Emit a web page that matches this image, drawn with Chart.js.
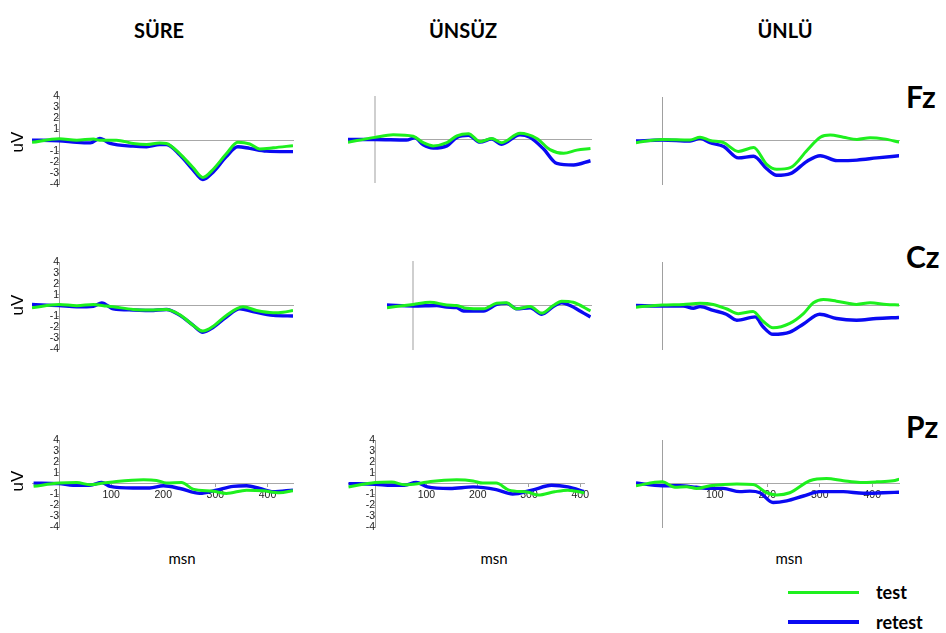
<!DOCTYPE html>
<html>
<head>
<meta charset="utf-8">
<script src="https://cdn.jsdelivr.net/npm/chart.js@4.4.1/dist/chart.umd.min.js"></script>
<style>
html,body{margin:0;padding:0;background:#fff;}
#stage{position:relative;width:946px;height:633px;overflow:hidden;background:#fff;}
canvas{position:absolute;}
.t{position:absolute;white-space:nowrap;color:#000;line-height:1;}
.colTitle{font-family:Lato,'Open Sans',sans-serif;font-weight:700;font-size:20px;transform:translate(-50%,-50%);}
.rowTitle{font-family:Lato,'Open Sans',sans-serif;font-weight:700;font-size:30px;transform:translate(0,-50%);}
.msn{font-family:Lato,'Open Sans',sans-serif;font-size:15px;transform:translate(-50%,-50%);}
.uv{font-family:'Liberation Sans',Arial,sans-serif;font-size:17px;transform:translate(-50%,-50%) rotate(-90deg);}
.leg{font-family:Lato,'Open Sans',sans-serif;font-weight:700;font-size:18px;transform:translate(0,-50%);}
.legLine{position:absolute;}
</style>
</head>
<body>
<div id="stage"></div>
<script>
// ---------- data (time in ms, amplitude in uV) ----------
const columns = ['SÜRE', 'ÜNSÜZ', 'ÜNLÜ'];
const rows = ['Fz', 'Cz', 'Pz'];
const seriesNames = ['test', 'retest'];
const yTicks = [4, 3, 2, 1, -1, -2, -3, -4];
const xTicks = [100, 200, 300, 400];
const xAxisTitle = 'msn';
const yAxisTitle = 'uV';

// Fz - SÜRE
const fzSureTestT   = [-52, 0, 34, 66, 78, 110, 142, 168, 193, 206, 232, 257, 276, 296, 321, 343, 366, 385, 411, 449];
const fzSureTest    = [-0.2, 0.12, 0, 0.1, 0, 0, -0.3, -0.4, -0.25, -0.3, -1.25, -2.5, -3.4, -2.65, -1.25, -0.2, -0.35, -0.8, -0.7, -0.5];
const fzSureRetestT = [-52, 0, 34, 60, 78, 98, 142, 168, 193, 206, 232, 257, 276, 296, 321, 343, 366, 398, 449];
const fzSureRetest  = [0, -0.05, -0.2, -0.25, 0.15, -0.3, -0.55, -0.6, -0.4, -0.4, -1.35, -2.7, -3.6, -2.9, -1.5, -0.6, -0.75, -1.0, -1.05];
// Fz - ÜNSÜZ
const fzUnsuzTestT   = [-51, 0, 35, 73, 92, 111, 137, 156, 178, 200, 222, 241, 276, 308, 333, 359, 384, 410];
const fzUnsuzTest    = [-0.25, 0.2, 0.45, 0.3, -0.3, -0.6, -0.3, 0.35, 0.55, -0.2, 0.1, -0.3, 0.6, 0.1, -0.95, -1.3, -1.0, -0.85];
const fzUnsuzRetestT = [-51, 0, 60, 76, 92, 111, 137, 156, 178, 200, 222, 241, 276, 295, 321, 346, 378, 410];
const fzUnsuzRetest  = [0, 0, -0.05, 0.15, -0.5, -0.8, -0.6, 0.2, 0.4, -0.25, 0.05, -0.45, 0.45, 0.2, -0.9, -2.25, -2.4, -2.0];
// Fz - ÜNLÜ
const fzUnluTestT   = [-50, 0, 53, 72, 91, 117, 145, 174, 199, 218, 244, 276, 301, 320, 345, 371, 396, 422, 452];
const fzUnluTest    = [-0.2, 0.1, 0.05, 0.3, 0, -0.2, -1.0, -0.65, -2.2, -2.65, -2.5, -0.9, 0.3, 0.5, 0.3, 0.1, 0.25, 0.15, -0.15];
const fzUnluRetestT = [-50, 0, 53, 72, 91, 117, 145, 174, 199, 218, 244, 276, 301, 333, 371, 409, 452];
const fzUnluRetest  = [-0.05, 0.05, -0.05, 0.2, -0.2, -0.55, -1.6, -1.45, -2.6, -3.2, -3.05, -1.9, -1.4, -1.85, -1.8, -1.6, -1.4];
// Cz - SÜRE
const czSureTestT   = [-52, 0, 34, 66, 85, 104, 142, 174, 206, 232, 257, 276, 296, 321, 353, 379, 411, 430, 449];
const czSureTest    = [-0.2, 0.1, 0, 0.1, 0, -0.1, -0.35, -0.4, -0.35, -0.85, -1.8, -2.35, -1.9, -0.9, -0.1, -0.45, -0.65, -0.6, -0.45];
const czSureRetestT = [-52, 0, 34, 66, 82, 104, 142, 174, 206, 232, 257, 276, 296, 321, 347, 372, 411, 449];
const czSureRetest  = [0.1, 0, -0.1, -0.05, 0.25, -0.3, -0.4, -0.45, -0.35, -0.9, -1.8, -2.45, -2.0, -1.05, -0.3, -0.55, -0.9, -0.95];
// Cz - ÜNSÜZ
const czUnsuzTestT   = [-50, 0, 32, 64, 83, 102, 134, 159, 178, 197, 223, 245, 267, 283, 305, 338];
const czUnsuzTest    = [-0.2, 0.1, 0.3, 0.05, 0, -0.25, -0.3, 0.2, 0.25, -0.3, -0.1, -0.7, 0, 0.4, 0.3, -0.5];
const czUnsuzRetestT = [-50, 0, 45, 64, 83, 96, 134, 159, 178, 197, 223, 245, 267, 283, 299, 325, 338];
const czUnsuzRetest  = [0.05, -0.05, 0, -0.15, -0.2, -0.5, -0.5, 0.1, 0.2, -0.3, -0.2, -0.8, -0.1, 0.25, 0, -0.7, -1.05];
// Cz - ÜNLÜ
const czUnluTestT   = [-50, 0, 40, 72, 97, 122, 145, 173, 192, 211, 243, 269, 288, 307, 332, 370, 396, 427, 451];
const czUnluTest    = [-0.15, 0.05, 0.1, 0.2, 0.1, -0.3, -0.75, -0.55, -1.45, -2.05, -1.65, -0.75, 0.25, 0.55, 0.4, 0.1, 0.25, 0.1, 0.05];
const czUnluRetestT = [-50, 0, 40, 59, 72, 97, 122, 142, 177, 192, 211, 243, 269, 300, 332, 370, 408, 451];
const czUnluRetest  = [0, -0.05, -0.05, -0.25, -0.1, -0.45, -0.8, -1.35, -1.05, -1.95, -2.65, -2.45, -1.7, -0.8, -1.2, -1.35, -1.2, -1.1];
// Pz - SÜRE
const pzSureTestT   = [-49, 0, 34, 59, 85, 110, 162, 187, 206, 235, 257, 296, 321, 360, 391, 423, 449];
const pzSureTest    = [-0.25, 0.05, 0.1, -0.1, 0.05, 0.2, 0.35, 0.3, 0.05, 0.1, -0.5, -0.7, -0.9, -0.6, -0.65, -0.85, -0.65];
const pzSureRetestT = [-49, 0, 27, 59, 82, 98, 142, 174, 200, 232, 270, 302, 334, 360, 385, 411, 449];
const pzSureRetest  = [0.05, 0, -0.15, -0.15, 0.1, -0.25, -0.4, -0.4, -0.2, -0.45, -0.9, -0.6, -0.25, -0.2, -0.45, -0.75, -0.6];
// Pz - ÜNSÜZ
const pzUnsuzTestT   = [-52, 0, 32, 57, 83, 108, 159, 191, 210, 236, 261, 299, 318, 350, 376, 409];
const pzUnsuzTest    = [-0.3, 0.1, 0.15, -0.1, 0, 0.2, 0.35, 0.25, 0.05, 0.05, -0.6, -0.8, -1.05, -0.75, -0.6, -0.85];
const pzUnsuzRetestT = [-52, 0, 32, 57, 80, 102, 146, 191, 236, 268, 306, 344, 376, 409];
const pzUnsuzRetest  = [0, -0.05, -0.15, -0.15, 0.1, -0.3, -0.45, -0.3, -0.55, -0.95, -0.6, -0.15, -0.3, -0.75];
// Pz - ÜNLÜ
const pzUnluTestT   = [-50, 0, 24, 46, 65, 91, 116, 142, 173, 199, 218, 243, 281, 313, 345, 377, 408, 440, 452];
const pzUnluTest    = [-0.2, 0.15, -0.35, -0.3, -0.45, -0.2, -0.1, -0.05, -0.1, -0.85, -1.05, -0.85, 0.25, 0.45, 0.25, 0.1, 0.15, 0.25, 0.4];
const pzUnluRetestT = [-50, 0, 34, 65, 91, 116, 148, 167, 186, 211, 237, 269, 300, 345, 383, 421, 452];
const pzUnluRetest  = [0.05, -0.2, -0.2, -0.35, -0.45, -0.45, -0.75, -0.7, -0.85, -1.75, -1.6, -1.15, -0.75, -0.75, -0.9, -0.85, -0.8];

// ---------- layout / styling ----------
const GREEN = '#1ef01e';
const BLUE = '#0a0af2';
const stage = document.getElementById('stage');

const panels = [
  {t:[fzSureTestT, fzSureTest], r:[fzSureRetestT, fzSureRetest], left:32, right:293, top:96, bottom:184, xmin:-52, xmax:449, yLab:true, xLab:false, axis:'thin'},
  {t:[fzUnsuzTestT, fzUnsuzTest], r:[fzUnsuzRetestT, fzUnsuzRetest], left:348, right:591, top:97, bottom:182, xmin:-51, xmax:411, yLab:false, xLab:false, axis:'light'},
  {t:[fzUnluTestT, fzUnluTest], r:[fzUnluRetestT, fzUnluRetest], left:636, right:899, top:97, bottom:184, xmin:-50, xmax:451, yLab:false, xLab:false, axis:'thin'},
  {t:[czSureTestT, czSureTest], r:[czSureRetestT, czSureRetest], left:32, right:293, top:262, bottom:349, xmin:-52, xmax:449, yLab:true, xLab:false, axis:'thin'},
  {t:[czUnsuzTestT, czUnsuzTest], r:[czUnsuzRetestT, czUnsuzRetest], left:387, right:591, top:262, bottom:349, xmin:-50, xmax:339, yLab:false, xLab:false, axis:'light'},
  {t:[czUnluTestT, czUnluTest], r:[czUnluRetestT, czUnluRetest], left:636, right:899, top:262, bottom:349, xmin:-50, xmax:451, yLab:false, xLab:false, axis:'thin'},
  {t:[pzSureTestT, pzSureTest], r:[pzSureRetestT, pzSureRetest], left:32, right:293, top:440, bottom:527, xmin:-52, xmax:449, yLab:true, xLab:true, axis:'thin'},
  {t:[pzUnsuzTestT, pzUnsuzTest], r:[pzUnsuzRetestT, pzUnsuzRetest], left:348, right:591, top:440, bottom:527, xmin:-53, xmax:408, yLab:true, xLab:true, axis:'thin', padR:0},
  {t:[pzUnluTestT, pzUnluTest], r:[pzUnluRetestT, pzUnluRetest], left:636, right:899, top:440, bottom:527, xmin:-50, xmax:451, yLab:false, xLab:true, axis:'thin'}
];

function pts(ts, vs) { return ts.map((t, i) => ({x: t, y: vs[i]})); }

const tickFont = {family: "'Liberation Sans', Arial, sans-serif", size: 10.5};

panels.forEach(p => {
  const padL = 30, padR = (p.padR !== undefined) ? p.padR : 6, padT = 8, padB = 16;
  const cv = document.createElement('canvas');
  const w = p.right - p.left + padL + padR;
  const h = p.bottom - p.top + padT + padB;
  cv.width = w; cv.height = h;
  cv.style.left = (p.left - padL) + 'px';
  cv.style.top = (p.top - padT) + 'px';
  cv.style.width = w + 'px'; cv.style.height = h + 'px';
  stage.appendChild(cv);
  const axisColor = p.axis === 'light' ? '#cfcfcf' : '#a0a0a0';
  const axisWidth = p.axis === 'light' ? 2 : 1;
  new Chart(cv, {
    type: 'line',
    data: {
      datasets: [
        {label: seriesNames[0], data: pts(p.t[0], p.t[1]), borderColor: GREEN, borderWidth: 3, pointRadius: 0, cubicInterpolationMode: 'monotone', fill: false},
        {label: seriesNames[1], data: pts(p.r[0], p.r[1]), borderColor: BLUE, borderWidth: 3.4, pointRadius: 0, cubicInterpolationMode: 'monotone', fill: false}
      ]
    },
    options: {
      responsive: false, animation: false, devicePixelRatio: 1,
      layout: {padding: {left: padL, right: padR, top: padT, bottom: padB}},
      plugins: {legend: {display: false}, tooltip: {enabled: false}, title: {display: false}},
      events: [],
      scales: {
        x: {
          type: 'linear', min: p.xmin, max: p.xmax,
          position: {y: 0},
          afterFit: s => { s.height = 0; },
          afterBuildTicks: s => { s.ticks = xTicks.map(v => ({value: v})); },
          grid: {display: true, drawOnChartArea: false, drawTicks: p.xLab, tickLength: 3, color: '#a0a0a0'},
          border: {display: true, color: '#a8a8a8', width: 1},
          ticks: {display: p.xLab, color: '#222', font: tickFont, padding: 2, maxRotation: 0, autoSkip: false}
        },
        y: {
          type: 'linear', min: -4, max: 4,
          position: {x: 0},
          afterFit: s => { s.width = 0; },
          afterBuildTicks: s => { s.ticks = yTicks.map(v => ({value: v})); },
          grid: {display: true, drawOnChartArea: false, drawTicks: p.yLab, tickLength: 2, color: '#a0a0a0'},
          border: {display: true, color: axisColor, width: axisWidth},
          ticks: {display: p.yLab, color: '#222', font: tickFont, padding: 2, autoSkip: false}
        }
      }
    }
  });
});

// ---------- text ----------
function addText(cls, txt, x, y) {
  const d = document.createElement('div');
  d.className = 't ' + cls;
  d.textContent = txt;
  d.style.left = x + 'px'; d.style.top = y + 'px';
  stage.appendChild(d);
  return d;
}
const colCenters = [159, 463, 785];
const msnCenters = [182, 494, 789];
columns.forEach((c, i) => addText('colTitle', c, colCenters[i], 30));
const rowCenters = [96, 256, 426];
rows.forEach((r, i) => addText('rowTitle', r, 906, rowCenters[i]));
msnCenters.forEach(x => addText('msn', xAxisTitle, x, 558));
[142, 305, 481].forEach(y => addText('uv', yAxisTitle, 17, y));

// legend
function legLine(color, y, h) {
  const d = document.createElement('div');
  d.className = 'legLine';
  d.style.left = '788px'; d.style.top = (y - h / 2) + 'px';
  d.style.width = '71px'; d.style.height = h + 'px';
  d.style.background = color;
  stage.appendChild(d);
}
legLine(GREEN, 592, 3);
legLine(BLUE, 622, 4);
addText('leg', seriesNames[0], 876, 592);
addText('leg', seriesNames[1], 876, 622);
</script>
</body>
</html>
